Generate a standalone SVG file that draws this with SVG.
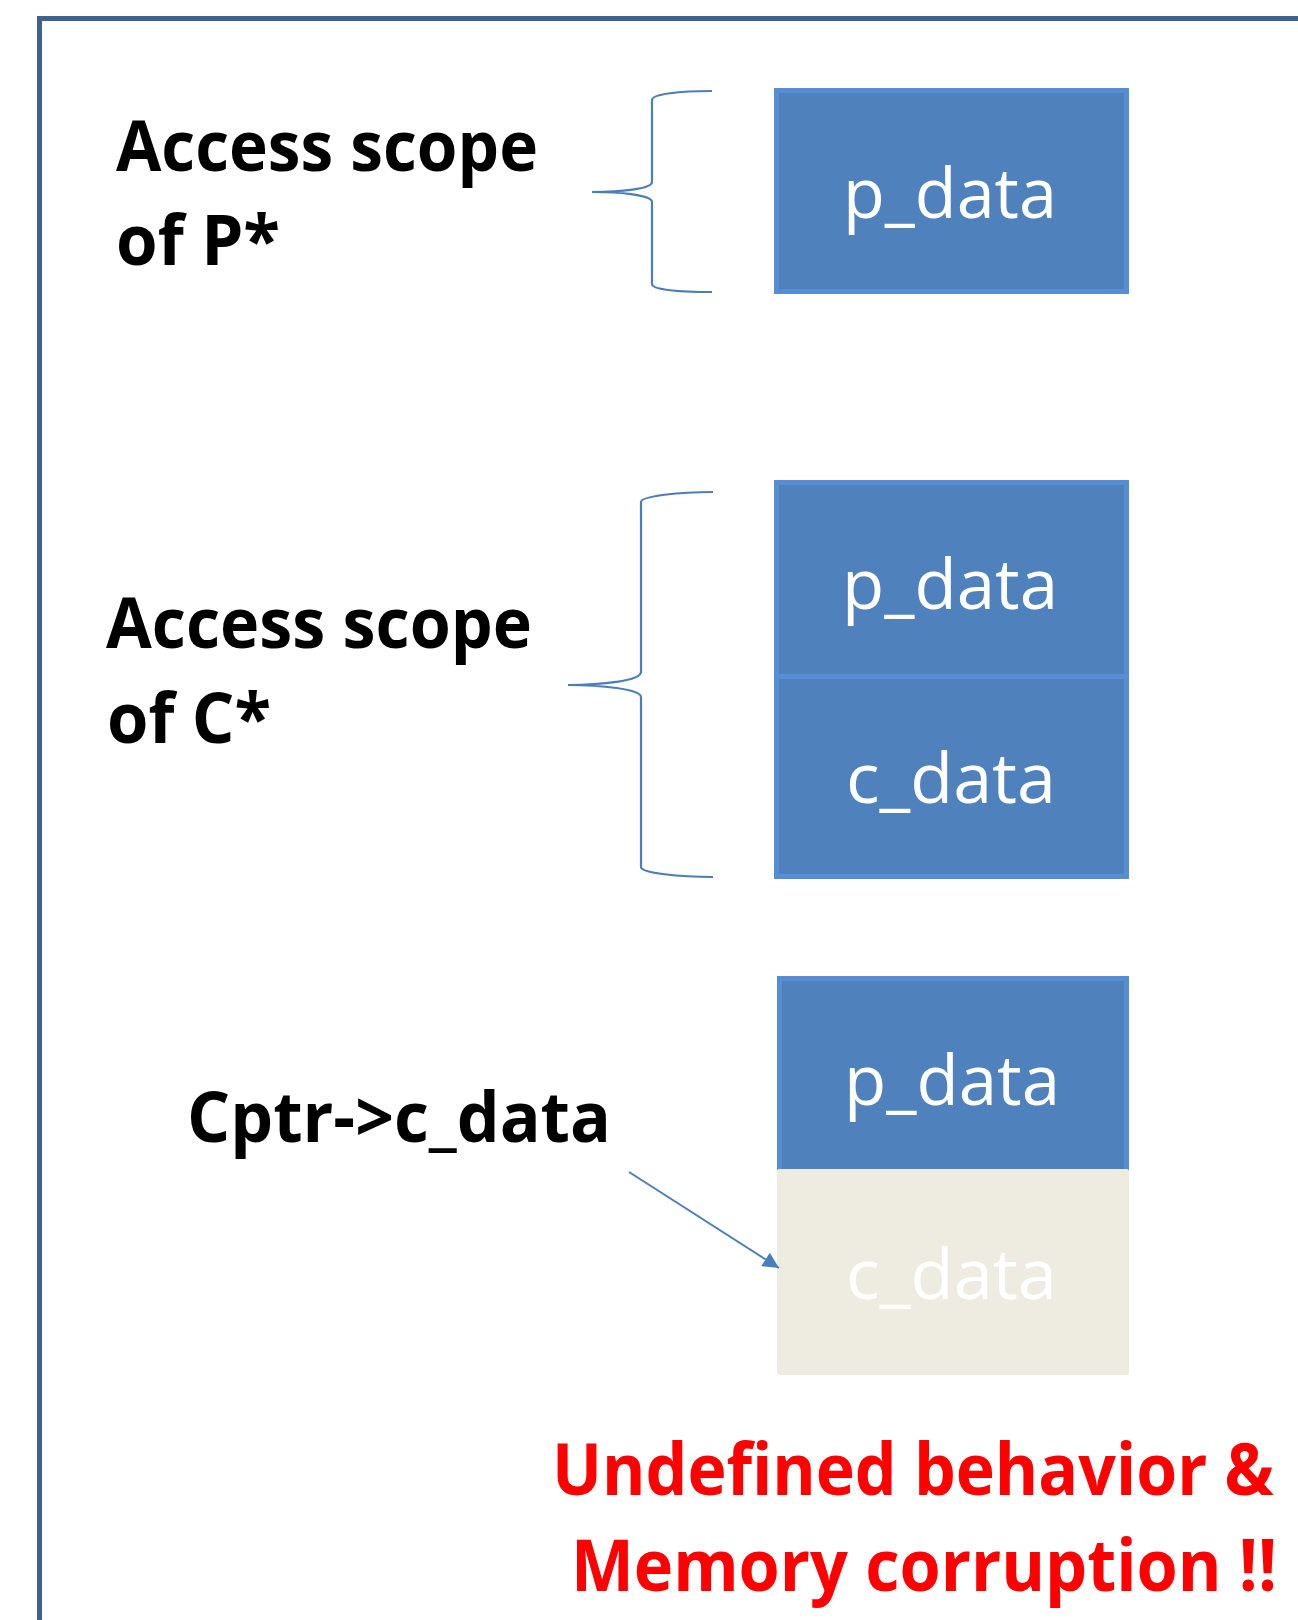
<svg xmlns="http://www.w3.org/2000/svg" width="1298" height="1620" viewBox="0 0 1298 1620">
  <defs>
    <style>
      .frame { fill: none; stroke: #3C6293; stroke-width: 5; }
      .cell { fill: #4F81BD; stroke: #558ED5; stroke-width: 5; }
      .ghost { fill: #EEEBE1; }
      .cellText { font-family: "Open Sans", "Noto Sans", "Liberation Sans", sans-serif; font-size: 70px; fill: #FFFFFF; }
      .label { font-family: "Open Sans", "Noto Sans", "Liberation Sans", sans-serif; font-weight: bold; font-size: 70px; fill: #000000; }
      .warn { font-family: "Open Sans", "Noto Sans", "Liberation Sans", sans-serif; font-weight: bold; font-size: 72px; fill: #FF0000; }
      .brace { fill: none; stroke: #4A7EBB; stroke-width: 2.2; }
      .conn { fill: none; stroke: #4A7EBB; stroke-width: 2; }
    </style>
    <marker id="arrow" viewBox="0 0 10 10" refX="10" refY="5" markerWidth="17" markerHeight="16" markerUnits="userSpaceOnUse" orient="auto">
      <path d="M0,0 L10,5 L0,10 z" fill="#4A7EBB"/>
    </marker>
  </defs>

  <rect x="0" y="0" width="1298" height="1620" fill="#FFFFFF"/>

  <path class="frame" d="M39.5,1620 L39.5,18.5 L1298,18.5"/>

  <!-- Labels -->
  <g id="label-p">
    <text class="label" x="116" y="171" textLength="422" lengthAdjust="spacingAndGlyphs">Access scope</text>
    <text class="label" x="116" y="265" textLength="164" lengthAdjust="spacingAndGlyphs">of P*</text>
  </g>
  <g id="label-c">
    <text class="label" x="106" y="648" textLength="426" lengthAdjust="spacingAndGlyphs">Access scope</text>
    <text class="label" x="107" y="743" textLength="164" lengthAdjust="spacingAndGlyphs">of C*</text>
  </g>
  <g id="label-cptr">
    <text class="label" x="187" y="1142" textLength="424" lengthAdjust="spacingAndGlyphs">Cptr-&gt;c_data</text>
  </g>

  <!-- Braces -->
  <g id="brace-p">
    <path class="brace" d="M712,91 C680,91 652,94 652,100 L652,182 C652,189 620,192 592,192 C620,192 652,195 652,202 L652,284 C652,290 680,292 712,292"/>
  </g>
  <g id="brace-c">
    <path class="brace" d="M713,492 C680,492 641,496 641,502 L641,672 C641,681 600,685 568,685 C600,685 641,689 641,697 L641,867 C641,873 680,877 713,877"/>
  </g>

  <!-- Memory blocks -->
  <g id="block-p">
    <rect class="cell" x="776.5" y="90.5" width="350" height="201"/>
    <text class="cellText" x="843" y="218" textLength="214" lengthAdjust="spacingAndGlyphs">p_data</text>
  </g>

  <g id="block-c-p">
    <rect class="cell" x="776.5" y="482.5" width="350" height="194"/>
    <text class="cellText" x="842" y="609" textLength="216" lengthAdjust="spacingAndGlyphs">p_data</text>
  </g>
  <g id="block-c-c">
    <rect class="cell" x="776.5" y="676.5" width="350" height="200"/>
    <text class="cellText" x="846" y="803" textLength="210" lengthAdjust="spacingAndGlyphs">c_data</text>
  </g>

  <g id="block-x-p">
    <rect class="cell" x="779.5" y="978.5" width="347" height="200"/>
    <text class="cellText" x="844" y="1105" textLength="216" lengthAdjust="spacingAndGlyphs">p_data</text>
  </g>
  <g id="block-x-c">
    <rect class="ghost" x="777" y="1169" width="352" height="206" rx="2"/>
    <text class="cellText" x="846" y="1299" textLength="211" lengthAdjust="spacingAndGlyphs">c_data</text>
  </g>

  <!-- Connectors -->
  <g id="connectors">
    <line class="conn" x1="629" y1="1172" x2="779" y2="1268" marker-end="url(#arrow)"/>
  </g>

  <g id="warning">
    <text class="warn" x="552" y="1495" textLength="722" lengthAdjust="spacingAndGlyphs">Undefined behavior &amp;</text>
    <text class="warn" x="571" y="1591" textLength="706" lengthAdjust="spacingAndGlyphs">Memory corruption !!</text>
  </g>
</svg>
